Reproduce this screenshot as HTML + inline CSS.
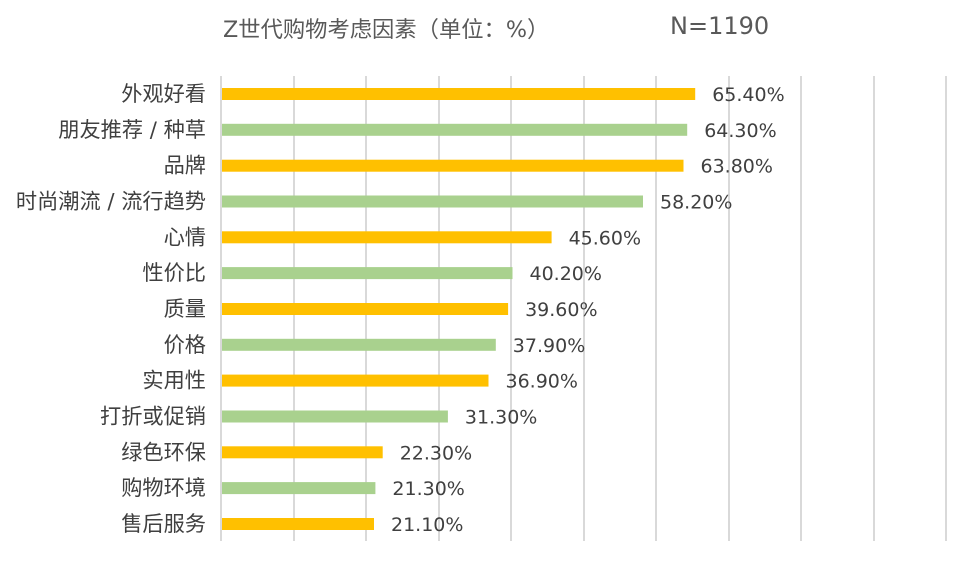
<!DOCTYPE html><html><head><meta charset="utf-8"><style>
body{margin:0;background:#fff;width:967px;height:564px;overflow:hidden;position:relative;font-family:"DejaVu Sans","Noto Sans CJK SC",sans-serif}
.t{position:absolute;white-space:nowrap}
</style></head><body>
<div class="t" style="left:223px;top:12px;font-size:22.3px;color:#595959">Z世代购物考虑因素（单位：%）</div>
<div class="t" style="left:670px;top:12px;font-size:24px;color:#595959">N=1190</div>
<svg width="967" height="564" style="position:absolute;left:0;top:0" font-family="DejaVu Sans, Noto Sans CJK SC, sans-serif">
<g stroke="#d9d9d9" stroke-width="2">
<line x1="221" y1="76" x2="221" y2="541"/><line x1="294" y1="76" x2="294" y2="541"/><line x1="366" y1="76" x2="366" y2="541"/><line x1="439" y1="76" x2="439" y2="541"/><line x1="511" y1="76" x2="511" y2="541"/><line x1="584" y1="76" x2="584" y2="541"/><line x1="656" y1="76" x2="656" y2="541"/><line x1="729" y1="76" x2="729" y2="541"/><line x1="801" y1="76" x2="801" y2="541"/><line x1="874" y1="76" x2="874" y2="541"/><line x1="946" y1="76" x2="946" y2="541"/>
</g>
<g id="b"></g>
</svg>
<script>
var d=[["外观好看",65.4],["朋友推荐 / 种草",64.3],["品牌",63.8],["时尚潮流 / 流行趋势",58.2],["心情",45.6],["性价比",40.2],["质量",39.6],["价格",37.9],["实用性",36.9],["打折或促销",31.3],["绿色环保",22.3],["购物环境",21.3],["售后服务",21.1]];
var s="";d.forEach(function(r,i){var y=88+35.83*i,w=r[1]*7.25,c=i%2?"#a9d18e":"#ffc000";
s+='<rect x="222" y="'+y.toFixed(1)+'" width="'+(w-1).toFixed(1)+'" height="12" fill="'+c+'"/>';
s+='<text x="206" y="'+(y+13).toFixed(1)+'" font-size="21.2" fill="#404040" text-anchor="end">'+r[0]+'</text>';
s+='<text x="'+(221+w+17).toFixed(1)+'" y="'+(y+13).toFixed(1)+'" font-size="19" fill="#404040">'+r[1].toFixed(2)+'%</text>';});
document.getElementById("b").innerHTML=s;
</script>
</body></html>
